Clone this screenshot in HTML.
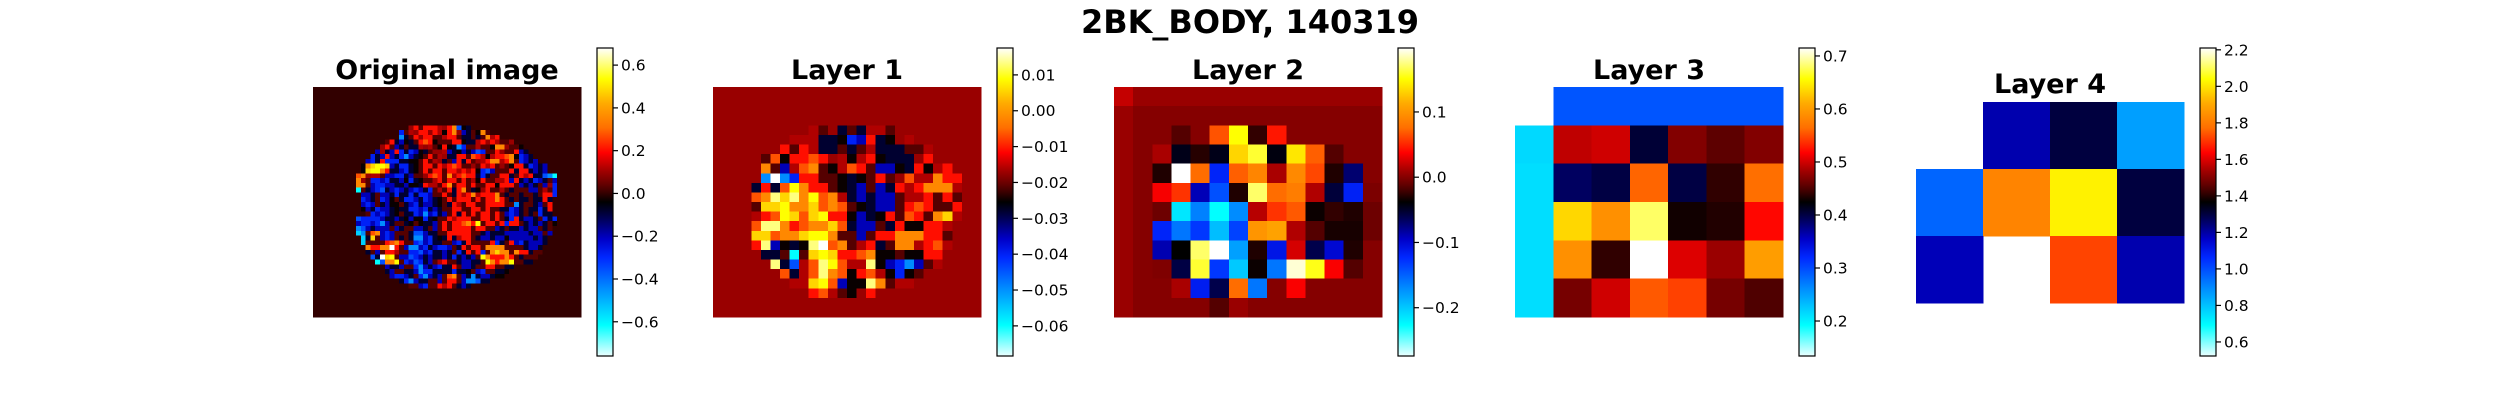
<!DOCTYPE html>
<html><head><meta charset="utf-8">
<style>
html,body{margin:0;padding:0;background:#fff;}
svg{display:block;}
text{font-family:"DejaVu Sans","Liberation Sans",sans-serif;}
</style></head>
<body>
<svg id="fig" width="2500" height="400" viewBox="0 0 2500 400" xmlns="http://www.w3.org/2000/svg">
<defs><linearGradient id="cbgrad" x1="0" y1="1" x2="0" y2="0"></linearGradient></defs>
<text x="1250" y="33" text-anchor="middle" font-size="32" font-weight="bold">2BK_BODY, 140319</text>
</svg>
<script>
// ---- colormap (cold-hot) ----
const cmapStops = [[0,[235,255,255]],[0.10,[0,255,255]],[0.22,[0,140,255]],[0.32,[0,40,255]],[0.38,[0,0,200]],[0.45,[0,0,80]],[0.50,[0,0,0]],[0.55,[90,0,0]],[0.60,[160,0,0]],[0.66,[255,0,0]],[0.74,[255,110,0]],[0.82,[255,170,0]],[0.90,[255,255,0]],[1.0,[255,255,255]]];

// ---- data ----
const codeT = {W:1,y:.95,Y:.9,G:.86,O:.775,o:.72,R:.67,r:.61,d:.595,m:.547,k:.505,n:.47,N:.39,B:.33,b:.28,L:.22,C:.15,c:.1,w:.03};

const origRange = [-0.76, 0.68];
const origTicks = [-0.6,-0.4,-0.2,0.0,0.2,0.4,0.6];
const origTickLabels = ["\u22120.6","\u22120.4","\u22120.2","0.0","0.2","0.4","0.6"];
const origRows = [
[8,20,"dRmRRRrdRObkn"],
[9,18,"BmrdRRdRrkROdNnmkOm"],
[10,18,"LnmRdRRmmrRRmnnmnmOrR"],
[11,15,"mRnNknmRoRkmmmRRknnrRdRrmmd"],
[12,14,"dRmNnmnnrdrmkRknLBmmrmmkOOdmmk"],
[13,13,"NdnNRBnBNknmddrNnkNnNbBmmRdmmRNn"],
[14,12,"BnNRNnBLNnkmRmrdnnRRmoRrkrRRoOkBNn"],
[15,11,"NBnRBBBnnkkmRmrdnmNRnRmdrROOrROmBNnN"],
[16,10,"kOGYYGNnBBnkmRRmRrRoRmmdmRrRmdmkRRnBNnN"],
[17,10,"kGYYORnnNBnkmRmRRmRRrRrRkBbNmmmRnRRnNnN"],
[18,9,"oOdrrmNNBBnNmmdRoRmOrRoRRnBnmmRRnmRrRnnbLc"],
[19,9,"OdmBBNBnnNkBnkmmrRmRRmRmrkRmmrrRNRnNnBNnmN"],
[20,9,"OOmNBBNNnnNkknRrrmROmRRmRmmRRkRRRmNnNnmNdB"],
[21,9,"cmnNBbnNBNnNBNnBmrmRnROmnkdRmmrmnmmmNNmrmB"],
[22,10,"NNnmNNnBnnBnBBNmmRmnRrROrRRROmnmmnmmnmRRB"],
[23,10,"BNnmBNkmnBBNnBNnkmRmRRRmRmRRORmnmnnmnnRn"],
[24,10,"NBNmnNkkmnNBnNNnkmnRrmRRmmRRRRmmLnmmnNmR"],
[25,10,"kNnBNNnknnBBNBnNnmmRRmmRRmRmmnnBNnmnnBnR"],
[26,11,"mBNBNnkmnnBNLNBnNmRnRmRmRRmRmNBNnmnmBnn"],
[27,9,"bBBBBNnnNnkNkkBnkmmRrRRRmmRRmRmnBRnNNnmBnB"],
[28,9,"NBBNBLNnmmnkmknnNmRmRRoORYmRRmRBRRmnNnNnmk"],
[29,9,"LbNnNNNmNnmmNNnmNmRmRRRRmRRmmNnmnnNnNNmnm"],
[30,9,"CLmoONBNmmmnbbNnnmmRRRRRmmnNnnnNNNNNnNNmN"],
[31,10,"CnGmNBNmnmnLLNBnknRnrRRmnNNnNNkNNNNNnNn"],
[32,10,"CmmmmRoORmmBbNBnnmmNBnRmmmmRBnmRNBnNNNn"],
[33,11,"ORROOWRmNLLNBnNBBNmnRmRRmOOOOmmmmnNNn"],
[34,11,"nmNmRRrmmBBbNBnnNnmBnRmRBmOGOOmORRnmm"],
[35,12,"bnWGYmNNbBNnNnnNnBnNnNmYORRRORmnmmm"],
[36,13,"cbOOYmBNbBnNmrRmmnNNnnmYOROOYmmnn"],
[37,15,"NnnNmmBLNnNBnnRmNNnmmRRmmnn"],
[38,15,"nNmmnnNLBBnnnnBnnkmNBmmnnk"],
[39,16,"NBBNnmBLNnNmoOmNnLnNNnkk"],
[40,18,"nBLNnnmmNmRRmNLLbnn"],
[41,20,"mmNBmmRrRmnNn"]
];

const l1Range = [-0.0684, 0.0175];
const l1Ticks = [-0.06,-0.05,-0.04,-0.03,-0.02,-0.01,0.0,0.01];
const l1TickLabels = ["\u22120.06","\u22120.05","\u22120.04","\u22120.03","\u22120.02","\u22120.01","0.00","0.01"];
const l1Rows = [
[4,9,"drmdnmnrrm"],
[5,7,"drrrnnkBNRnkdr"],
[6,7,"RmRrnnmnmrnnnmmr"],
[7,5,"mokRRoRdrkrRknnndRdd"],
[8,5,"OmNroOmkroRmNNknRkrR"],
[9,4,"dLWLBRRmmknkmRmdorrORR"],
[10,4,"nRnoYORRmknNmNnRrROOOr"],
[11,4,"oOyGyOYoOrnNnNNmrrRmRm"],
[12,4,"mGGYOOGoOomknNNmRoRmmR"],
[13,4,"rRoYGoGYRRkNnkRmoRmOGr"],
[14,4,"oyyORoOOGonNNmnRkkRRrd"],
[15,4,"GGoOOGYYOmmNmRROOORRmd"],
[16,4,"RyNknkyWoOmrRnmOOrRord"],
[17,5,"nnmcmGYGRRoOkkmkkRRd"],
[18,6,"ynbroyYorrykNBLNmrd"],
[19,7,"onroyOokRorkBkm"],
[20,8,"rrGYoNkkyOmrr"],
[21,10,"RormkdRd"]
];

const l2Range = [-0.274, 0.198];
const l2Ticks = [-0.2,-0.1,0.0,0.1];
const l2TickLabels = ["\u22120.2","\u22120.1","0.0","0.1"];
const l2Values = [
[0.02,0.007,0.007,0.007,0.007,0.007,0.007,0.007,0.007,0.007,0.007,0.007,0.007,0.007],
[0.007,0.0,0.0,0.0,0.0,0.0,0.0,0.0,0.0,0.0,0.0,0.0,0.0,0.0],
[0.007,0.0,0.0,-0.016,0.0,0.066,0.151,-0.025,0.045,0.0,0.0,0.0,0.0,0.0],
[0.007,0.0,0.012,-0.045,-0.028,-0.045,0.132,0.16,-0.042,0.14,0.07,-0.016,0.0,0.0],
[0.007,0.0,-0.03,0.198,0.075,-0.12,0.07,0.09,0.012,0.092,0.062,-0.03,-0.07,0.0],
[0.007,0.0,0.035,0.055,-0.09,-0.142,-0.03,0.17,0.075,0.085,0.014,-0.055,-0.118,-0.003],
[0.007,0.0,-0.008,-0.215,-0.165,-0.227,-0.17,0.016,0.055,0.068,-0.035,-0.025,-0.03,-0.008],
[0.007,0.0,-0.12,-0.16,-0.13,-0.195,-0.135,0.1,0.108,0.014,-0.016,-0.032,-0.032,-0.008],
[0.007,0.0,-0.088,-0.038,0.17,0.198,-0.18,-0.03,-0.11,0.025,-0.06,-0.1,-0.03,0.0],
[0.007,0.0,-0.002,-0.058,0.16,-0.13,-0.2,-0.035,-0.16,0.19,0.155,0.036,-0.016,0.0],
[0.007,0.0,0.0,0.012,-0.115,-0.06,0.075,-0.16,0.0,0.036,0.0,0.0,0.0,0.0],
[0.007,0.0,0.0,0.0,0.0,-0.016,0.007,0.0,0.0,0.0,0.0,0.0,0.0,0.0]
];

const l3Range = [0.134, 0.715];
const l3Ticks = [0.2,0.3,0.4,0.5,0.6,0.7];
const l3TickLabels = ["0.2","0.3","0.4","0.5","0.6","0.7"];
const l3Values = [
[NaN,0.294,0.294,0.294,0.294,0.294,0.294],
[0.215,0.494,0.50,0.405,0.47,0.455,0.47],
[0.212,0.39,0.40,0.56,0.40,0.44,0.565],
[0.212,0.635,0.59,0.68,0.43,0.435,0.52],
[0.212,0.59,0.44,0.715,0.505,0.48,0.60],
[0.212,0.465,0.50,0.555,0.545,0.465,0.45]
];

const l4Range = [0.523, 2.21];
const l4Ticks = [0.6,0.8,1.0,1.2,1.4,1.6,1.8,2.0,2.2];
const l4TickLabels = ["0.6","0.8","1.0","1.2","1.4","1.6","1.8","2.0","2.2"];
const l4Values = [
[NaN,1.19,1.30,0.86],
[0.96,1.82,2.02,1.30],
[1.18,NaN,1.72,1.19]
];

function decodeRows(rows, nr, nc, bgValue, range){
  const out = [];
  for(let r=0;r<nr;r++){ const a=[]; for(let c=0;c<nc;c++) a.push(bgValue); out.push(a); }
  rows.forEach(([r,s,str])=>{
    for(let i=0;i<str.length;i++){
      const c=s+i; if(c>=nc) break;
      const t=codeT[str[i]]; if(t===undefined) continue;
      out[r][c]=range[0]+t*(range[1]-range[0]);
    }
  });
  return out;
}
const origValues = decodeRows(origRows,48,56,0.0,origRange);
const l1Values = decodeRows(l1Rows,24,28,l1Range[0]+0.595*(l1Range[1]-l1Range[0]),l1Range);

// ---- drawing ----
const NS="http://www.w3.org/2000/svg";
const svg=document.getElementById('fig');
function cmap(t){
  t=Math.max(0,Math.min(1,t));
  for(let i=1;i<cmapStops.length;i++){
    if(t<=cmapStops[i][0]){
      const [t0,c0]=cmapStops[i-1],[t1,c1]=cmapStops[i];
      const f=(t-t0)/(t1-t0);
      return 'rgb('+c0.map((v,k)=>Math.round(v+(c1[k]-v)*f)).join(',')+')';
    }
  }
  return 'rgb(255,255,255)';
}
const grad=document.getElementById('cbgrad');
for(let i=0;i<=50;i++){
  const st=document.createElementNS(NS,'stop');
  st.setAttribute('offset',(i/50));
  st.setAttribute('stop-color',cmap(i/50));
  grad.appendChild(st);
}
function el(tag,attrs,parent){
  const e=document.createElementNS(NS,tag);
  for(const k in attrs) e.setAttribute(k,attrs[k]);
  (parent||svg).appendChild(e); return e;
}
const CB_TOP=48, CB_BOT=356;
function panel(name,title,titleY,values,range,ticks,labels,px,py,pw,ph){
  const g=el('g',{});
  
  
  const nr=values.length,nc=values[0].length;
  const cw=pw/nc,ch=ph/nr;
  const xScale=c=>px+c*cw, yScale=r=>py+r*ch;
  const cells=el('g',{'shape-rendering':'crispEdges'},g);
  
  
  for(let r=0;r<nr;r++)for(let c=0;c<nc;c++){
    const v=values[r][c]; if(isNaN(v)) continue;
    const rc=el('rect',{x:xScale(c).toFixed(2),y:yScale(r).toFixed(2),width:(cw+0.6).toFixed(2),height:(ch+0.6).toFixed(2),fill:cmap((v-range[0])/(range[1]-range[0]))},cells);
    
    
  }
  const t=el('text',{x:px+pw/2,y:titleY,'text-anchor':'middle','font-size':27,'font-weight':'bold'},g);
  t.textContent=title;
  
  
  const cx=px+pw+16, cwid=16;
  const cb=el('g',{},g);
  
  
  el('rect',{x:cx,y:CB_TOP,width:cwid,height:CB_BOT-CB_TOP,fill:'url(#cbgrad)',stroke:'#000','stroke-width':1.2},cb);
  const vy=v=>CB_BOT-(v-range[0])/(range[1]-range[0])*(CB_BOT-CB_TOP);
  ticks.forEach((v,i)=>{
    const y=vy(v);
    const tk=el('line',{x1:cx+cwid,x2:cx+cwid+5,y1:y,y2:y,stroke:'#000','stroke-width':1.2},cb);
    
    
    const tl=el('text',{x:cx+cwid+8,y:y+5.5,'font-size':15.5,fill:'#000'},cb);
    tl.textContent=labels[i];
    
    
  });
}
panel('original-image','Original image',79,origValues,origRange,origTicks,origTickLabels,313,87,268,230);
panel('layer-1','Layer 1',79,l1Values,l1Range,l1Ticks,l1TickLabels,713,87,268,230);
panel('layer-2','Layer 2',79,l2Values,l2Range,l2Ticks,l2TickLabels,1114,87,268,230);
panel('layer-3','Layer 3',79,l3Values,l3Range,l3Ticks,l3TickLabels,1515,87,268,230);
panel('layer-4','Layer 4',93,l4Values,l4Range,l4Ticks,l4TickLabels,1916,102,268,201);
</script>
</body></html>
